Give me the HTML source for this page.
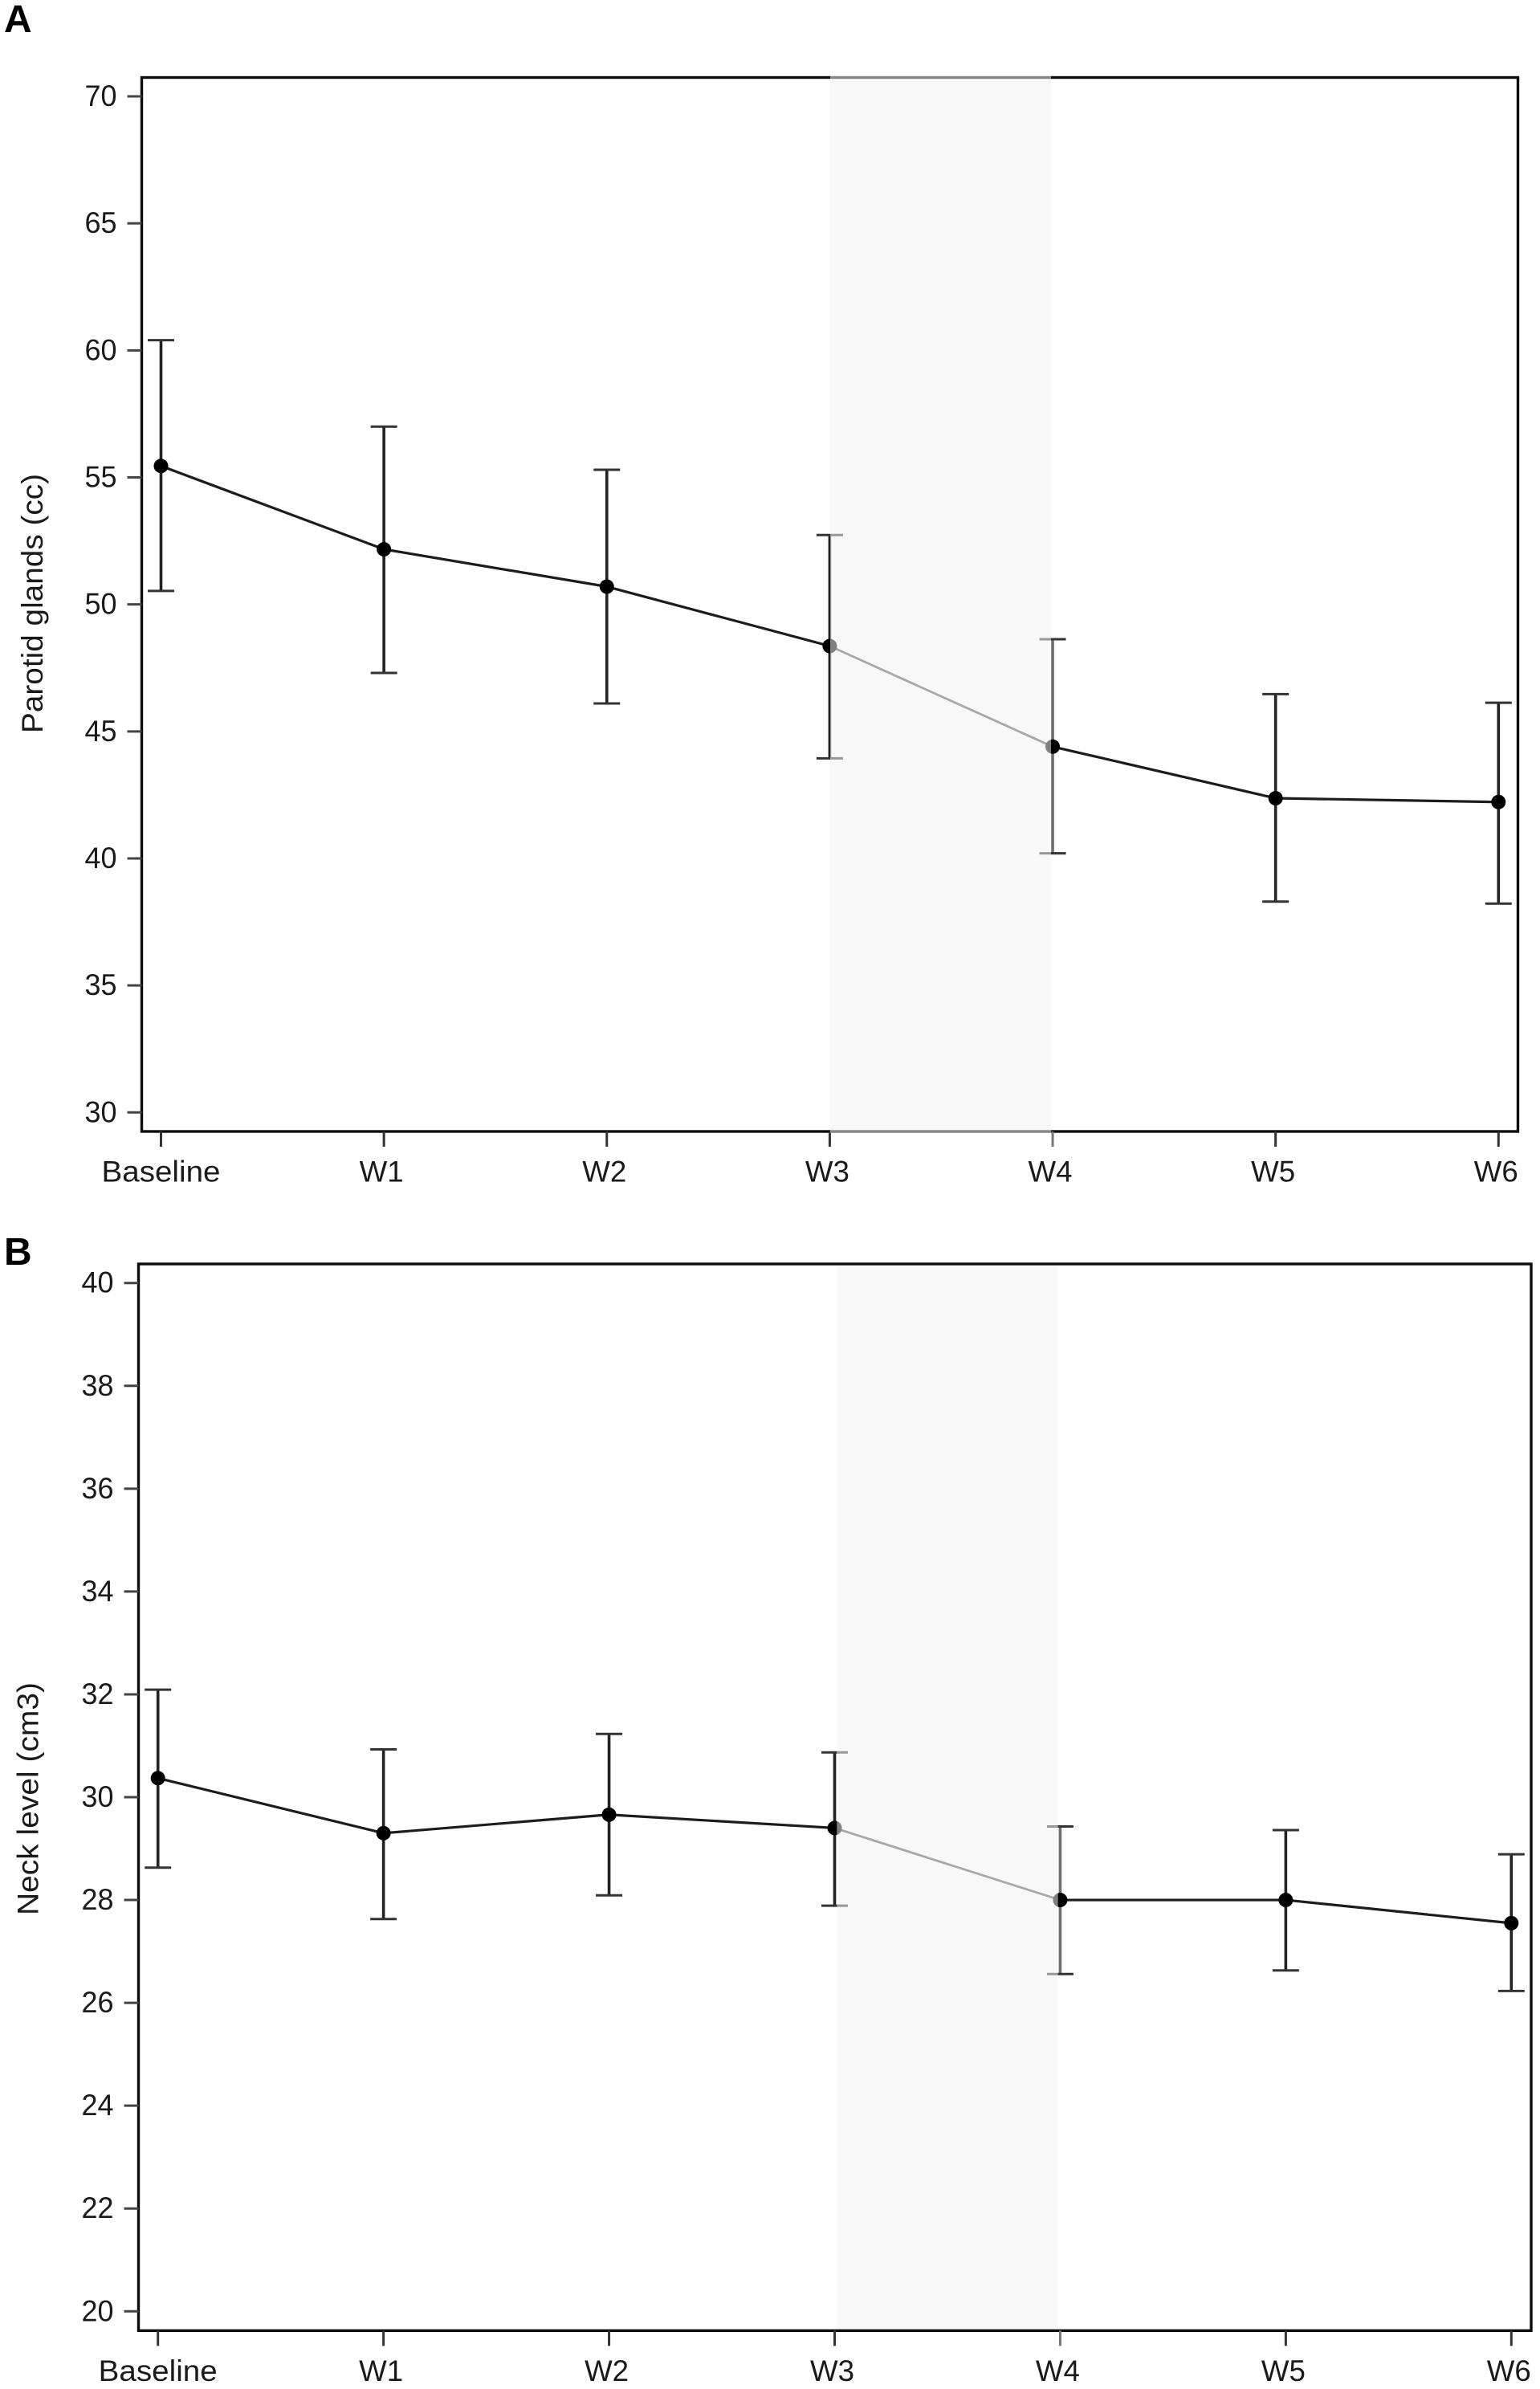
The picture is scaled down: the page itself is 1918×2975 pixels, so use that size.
<!DOCTYPE html>
<html lang="en">
<head>
<meta charset="utf-8">
<title>Parotid glands and neck level over radiotherapy weeks</title>
<style>
  html, body { margin: 0; padding: 0; background: #ffffff; }
  #figure { display: block; width: 1918px; height: 2975px; }
  text { font-family: "Liberation Sans", Arial, sans-serif; fill: #1a1a1a; }
  .panel-letter { font-weight: 700; font-size: 48px; fill: #000; }
</style>
</head>
<body>
<svg id="figure" xmlns="http://www.w3.org/2000/svg" width="1918" height="2975" viewBox="0 0 1918 2975">
  <rect x="0" y="0" width="1918" height="2975" fill="#ffffff"/>
  <g id="panel-a"></g>
  <g id="panel-b"></g>
  <text class="panel-letter" x="5" y="40">A</text>
  <text class="panel-letter" x="5" y="1575">B</text>
</svg>
<script>
// ---- data ----
const categories = ['Baseline', 'W1', 'W2', 'W3', 'W4', 'W5', 'W6'];

const parotidTicks = [30, 35, 40, 45, 50, 55, 60, 65, 70];
const parotidMean  = [55.45, 52.17, 50.7, 48.36, 44.4, 42.37, 42.22];
const parotidUpper = [60.4, 57.0, 55.3, 52.73, 48.63, 46.47, 46.13];
const parotidLower = [50.53, 47.3, 46.1, 43.94, 40.2, 38.3, 38.22];

const neckTicks = [20, 22, 24, 26, 28, 30, 32, 34, 36, 38, 40];
const neckMean  = [30.37, 29.3, 29.66, 29.4, 28.0, 28.0, 27.55];
const neckUpper = [32.09, 30.93, 31.23, 30.87, 29.43, 29.36, 28.89];
const neckLower = [28.63, 27.63, 28.09, 27.89, 26.56, 26.63, 26.23];

// Start and end category of the shaded interval
const shadedFrom = 'W3';
const shadedTo = 'W4';

const SVGNS = 'http://www.w3.org/2000/svg';

function mk(parent, tag, attrs, name, text) {
  const el = document.createElementNS(SVGNS, tag);
  for (const k in attrs) { el.setAttribute(k, attrs[k]); }
  
  
  if (text !== undefined) { el.textContent = text; }
  parent.appendChild(el);
  return el;
}

function drawPanel(cfg) {
  const root = document.getElementById(cfg.id);
  const g = cfg.geom;
  // axis functions
  const xScale = (i) => g.x0 + i * (g.x6 - g.x0) / (categories.length - 1);
  const yScale = (v) => g.yMinPx + (v - cfg.ticks[0]) * (g.yMaxPx - g.yMinPx) / (cfg.ticks[cfg.ticks.length - 1] - cfg.ticks[0]);
  const fromIdx = categories.indexOf(shadedFrom);
  const toIdx = categories.indexOf(shadedTo);

  const shadeL = xScale(fromIdx) + g.shadePadL;
  const shadeR = xScale(toIdx) - g.shadePadR;

  // frame
  mk(root, 'rect', { x: g.left, y: g.top, width: g.right - g.left, height: g.bottom - g.top, fill: 'none', stroke: '#0c0c0c', 'stroke-width': 3.4 }, 'plot-frame');

  // y ticks and labels
  cfg.ticks.forEach((t) => {
    const y = yScale(t);
    mk(root, 'line', { x1: g.left - 18, x2: g.left, y1: y, y2: y, stroke: '#444', 'stroke-width': 3 }, 'y-tick-' + t);
    mk(root, 'text', { x: g.left - 31, y: y + 12, 'text-anchor': 'end', 'font-size': 37, textLength: 40, lengthAdjust: 'spacingAndGlyphs' }, 'y-tick-label-' + t, String(t));
  });

  // x ticks and labels
  categories.forEach((c, i) => {
    const x = xScale(i);
    const isMuted = (i === toIdx);
    mk(root, 'line', { x1: x, x2: x, y1: g.bottom, y2: g.bottom + 19, stroke: isMuted ? '#777' : '#333', 'stroke-width': 3 }, 'x-tick-' + c.toLowerCase());
    const isBase = (i === 0);
    mk(root, 'text', { x: x + (isBase ? 0 : -3), y: g.bottom + 62.5, 'text-anchor': 'middle', 'font-size': 37, textLength: isBase ? 148 : 55, lengthAdjust: 'spacingAndGlyphs' }, 'x-tick-label-' + c.toLowerCase(), c);
  });

  // y-axis title
  mk(root, 'text', { x: 0, y: 0, 'text-anchor': 'middle', 'font-size': 37, textLength: cfg.titleLen, lengthAdjust: 'spacingAndGlyphs', transform: 'translate(' + g.titleX + ' ' + g.titleMid + ') rotate(-90)' }, 'y-axis-title', cfg.title);

  // error bars
  categories.forEach((c, i) => {
    const x = xScale(i);
    const barColor = (i === toIdx) ? '#6e6e6e' : '#222';
    const eg = mk(root, 'g', {}, 'error-bar-' + c.toLowerCase());
    const yU = yScale(cfg.upper[i]);
    const yL = yScale(cfg.lower[i]);
    mk(eg, 'line', { x1: x, x2: x, y1: yU, y2: yL, stroke: barColor, 'stroke-width': 3.6 }, 'error-stem-' + c.toLowerCase());
    mk(eg, 'line', { x1: x - 16.5, x2: x + 16.5, y1: yU, y2: yU, stroke: '#333', 'stroke-width': 3 }, 'error-cap-upper-' + c.toLowerCase());
    mk(eg, 'line', { x1: x - 16.5, x2: x + 16.5, y1: yL, y2: yL, stroke: '#333', 'stroke-width': 3 }, 'error-cap-lower-' + c.toLowerCase());
  });

  // connecting line, segment by segment
  for (let i = 0; i < categories.length - 1; i++) {
    const muted = (i === fromIdx);
    mk(root, 'line', { x1: xScale(i), y1: yScale(cfg.mean[i]), x2: xScale(i + 1), y2: yScale(cfg.mean[i + 1]), stroke: muted ? '#555' : '#1c1c1c', 'stroke-width': muted ? 2.8 : 3.2 }, 'mean-line-' + categories[i].toLowerCase() + '-to-' + categories[i + 1].toLowerCase());
  }

  // markers
  categories.forEach((c, i) => {
    mk(root, 'circle', { cx: xScale(i), cy: yScale(cfg.mean[i]), r: 9, fill: '#000' }, 'mean-point-' + c.toLowerCase());
  });

  // translucent interval band: lightens the background and dims marks inside it
  const veilTop = cfg.veilOverFrame ? g.top - 2 : g.top + 2;
  const veilBottom = cfg.veilOverFrame ? g.bottom + 2 : g.bottom - 2;
  mk(root, 'rect', { x: shadeL, y: veilTop, width: shadeR - shadeL, height: veilBottom - veilTop, fill: 'rgb(241,241,241)', 'fill-opacity': 0.53 }, 'treatment-interval-shade');
}

drawPanel({
  id: 'panel-a',
  title: 'Parotid glands (cc)',
  titleLen: 323,
  ticks: parotidTicks,
  mean: parotidMean,
  upper: parotidUpper,
  lower: parotidLower,
  veilOverFrame: true,
  geom: { left: 176.5, right: 1890.5, top: 96.5, bottom: 1409, x0: 200.5, x6: 1866.3, yMinPx: 1385.3, yMaxPx: 120, titleX: 53, titleMid: 751.5, shadePadL: 0.6, shadePadR: 2 }
});

drawPanel({
  id: 'panel-b',
  title: 'Neck level (cm3)',
  titleLen: 290,
  ticks: neckTicks,
  mean: neckMean,
  upper: neckUpper,
  lower: neckLower,
  veilOverFrame: false,
  geom: { left: 172.5, right: 1907, top: 1574, bottom: 2902.3, x0: 196.7, x6: 1882.3, yMinPx: 2878.3, yMaxPx: 1597.7, titleX: 47.7, titleMid: 2240, shadePadL: 2.8, shadePadR: 2.8 }
});
</script>
</body>
</html>
